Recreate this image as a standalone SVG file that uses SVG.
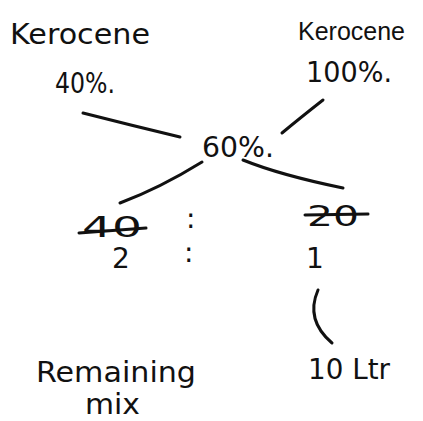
<svg xmlns="http://www.w3.org/2000/svg" width="423" height="421" viewBox="0 0 423 421">
<style>
text{font-family:"DejaVu Sans","Liberation Sans",sans-serif;fill:#111;}
.t{font-size:29px;}
.n{font-size:28px;}
.c path{stroke:#111;stroke-width:3;fill:none;stroke-linecap:round;}
.s{stroke:#111;stroke-width:3;stroke-linecap:round;}
</style>
<rect width="423" height="421" fill="#fff"/>
<g id="k1"><text class="t" x="10" y="44" textLength="140" lengthAdjust="spacingAndGlyphs">Kerocene</text></g>
<g id="k2"><text x="298" y="40" font-size="25" style="font-family:'Liberation Sans',Arial,sans-serif">Kerocene</text></g>
<g id="p40"><text class="n" x="55" y="93" font-size="30" textLength="60" lengthAdjust="spacingAndGlyphs">40%.</text></g>
<g id="p100"><text class="n" x="306" y="82" font-size="30" textLength="86" lengthAdjust="spacingAndGlyphs">100%.</text></g>
<g id="p60"><text class="n" x="202" y="157" textLength="72" lengthAdjust="spacingAndGlyphs">60%.</text></g>
<g id="r40"><text class="n" x="82" y="237" textLength="60" lengthAdjust="spacingAndGlyphs">40</text><line class="s" x1="79" y1="233" x2="146" y2="228"/></g>
<g id="col1"><text class="n" x="186" y="228">:</text></g>
<g id="r20"><text class="n" x="307" y="226" font-size="26" textLength="52" lengthAdjust="spacingAndGlyphs">20</text><line class="s" x1="305" y1="215" x2="368" y2="214"/></g>
<g id="r2"><text class="n" x="112" y="268" font-size="26">2</text></g>
<g id="col2"><text class="n" x="184" y="262">:</text></g>
<g id="r1"><text class="n" x="306" y="268" font-size="26">1</text></g>
<g id="ltr"><text class="t" x="308" y="379" font-size="28" textLength="82" lengthAdjust="spacingAndGlyphs">10 Ltr</text></g>
<g id="rem"><text class="t" x="36" y="382" font-size="27" textLength="160" lengthAdjust="spacingAndGlyphs">Remaining</text><text class="t" x="85" y="414" font-size="25" textLength="55" lengthAdjust="spacingAndGlyphs">mix</text></g>
<g class="c" id="connectors">
<path d="M83,113 Q130,125 180,137"/>
<path d="M323,100 Q300,118 282,133"/>
<path d="M202,162 Q160,188 120,203"/>
<path d="M243,160 Q280,175 343,188"/>
<path d="M318,290 Q305,320 332,343"/>
</g>
</svg>
